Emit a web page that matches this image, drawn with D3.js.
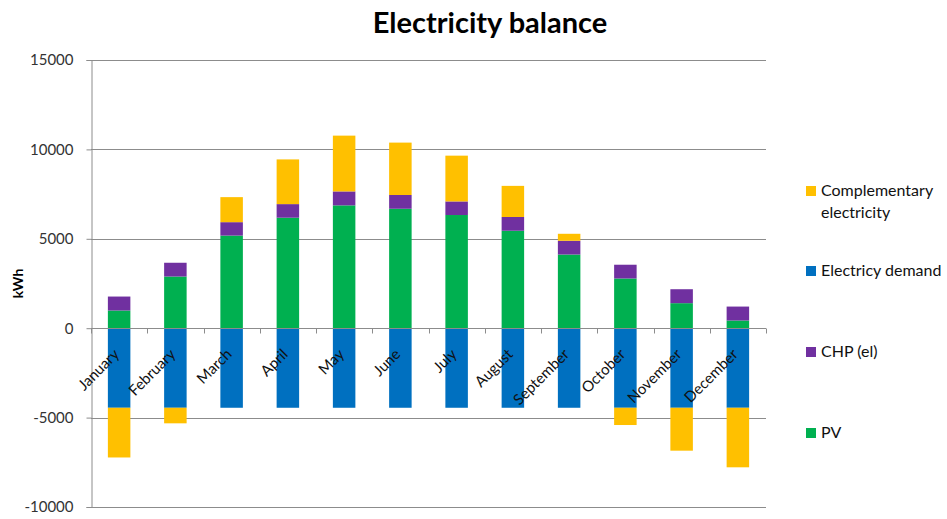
<!DOCTYPE html>
<html>
<head>
<meta charset="utf-8">
<script src="https://cdn.jsdelivr.net/npm/d3@7"></script>
<style>
  html, body { margin: 0; padding: 0; background: #fff; }
  svg text { font-family: Lato, "Open Sans", sans-serif; fill: #222; }
</style>
</head>
<body>
<div id="chart"></div>
<script>
/* Electricity balance — monthly stacked bars (kWh), positive: PV / CHP / surplus, negative: demand / import */
const months = ["January", "February", "March", "April", "May", "June",
  "July", "August", "September", "October", "November", "December"];
const pv = [990, 2890, 5180, 6180, 6870, 6680, 6330, 5450, 4120, 2780, 1400, 430];
const chp = [780, 770, 750, 760, 780, 770, 760, 770, 770, 770, 780, 780];
const demand = [-4450, -4450, -4450, -4450, -4450, -4450, -4450, -4450, -4450, -4450, -4450, -4450];
const complementary = [-2780, -870, 1400, 2500, 3120, 2930, 2560, 1740, 390, -965, -2400, -3330];
const yTicks = [-10000, -5000, 0, 5000, 10000, 15000];

const keys = ["pv", "chp", "demand", "comp"];
const COLORS = { pv: "#00B050", chp: "#7030A0", demand: "#0070C0", comp: "#FFC000" };
const legendItems = [
  { key: "comp", lines: ["Complementary", "electricity"], y: 190 },
  { key: "demand", lines: ["Electricy demand"], y: 270 },
  { key: "chp", lines: ["CHP (el)"], y: 351 },
  { key: "pv", lines: ["PV"], y: 432 }
];

const W = 947, H = 519;
const m = { left: 91, right: 181, top: 60, bottom: 12 };

const rows = months.map((mo, i) => ({
  month: mo, pv: pv[i], chp: chp[i], demand: demand[i], comp: complementary[i]
}));
const series = d3.stack().keys(keys).offset(d3.stackOffsetDiverging)(rows);

const svg = d3.select("#chart").append("svg")
  .attr("width", W).attr("height", H);

const x = d3.scaleBand().domain(months)
  .range([m.left, W - m.right]).paddingInner(0.6).paddingOuter(0.3);
const y = d3.scaleLinear().domain([-10000, 15000]).range([H - m.bottom, m.top]);

// title
svg.append("text")
  .attr("x", 490).attr("y", 33)
  .attr("text-anchor", "middle")
  .attr("font-size", 29).attr("font-weight", "bold")
  .style("fill", "#000")
  .text("Electricity balance");

// grid lines
svg.append("g").selectAll("line")
  .data(yTicks.filter(t => t !== 0)).join("line")
  .attr("x1", m.left).attr("x2", W - m.right)
  .attr("y1", d => Math.round(y(d)) + 0.5).attr("y2", d => Math.round(y(d)) + 0.5)
  .attr("stroke", "#8c8c8c").attr("stroke-width", 1);

// y axis
const yAxis = svg.append("g")
  .attr("transform", `translate(${m.left + 0.5},0)`)
  .call(d3.axisLeft(y).tickValues(yTicks).tickSize(5).tickPadding(13).tickFormat(d => String(d)));
yAxis.select(".domain").attr("stroke", "#8c8c8c");
yAxis.selectAll(".tick line").attr("stroke", "#8c8c8c");
yAxis.selectAll(".tick text").attr("font-size", 15).style("fill", "#333")
  .style("font-family", "Lato, sans-serif");

// y label
svg.append("text")
  .attr("transform", `translate(23,${(m.top + H - m.bottom) / 2}) rotate(-90)`)
  .attr("text-anchor", "middle")
  .attr("font-size", 14).attr("font-weight", "bold")
  .style("fill", "#000")
  .text("kWh");

// bars
svg.append("g").selectAll("g")
  .data(series).join("g")
  .attr("fill", d => COLORS[d.key])
  .selectAll("rect")
  .data(d => d).join("rect")
  .attr("x", d => x(d.data.month))
  .attr("width", x.bandwidth())
  .attr("y", d => y(Math.max(d[0], d[1])))
  .attr("height", d => Math.abs(y(d[0]) - y(d[1])));

// zero axis with band ticks
const y0 = Math.round(y(0)) + 0.5;
svg.append("line")
  .attr("x1", m.left).attr("x2", W - m.right)
  .attr("y1", y0).attr("y2", y0)
  .attr("stroke", "#8c8c8c");
svg.append("g").selectAll("line")
  .data(d3.range(months.length + 1)).join("line")
  .attr("x1", i => Math.round(m.left + i * x.step()) + 0.5)
  .attr("x2", i => Math.round(m.left + i * x.step()) + 0.5)
  .attr("y1", y0).attr("y2", y0 + 5)
  .attr("stroke", "#8c8c8c");

// month labels
svg.append("g").selectAll("text")
  .data(months).join("text")
  .attr("transform", d => `translate(${x(d) + x.bandwidth() / 2 + 1},${y(0) + 27}) rotate(-45)`)
  .attr("text-anchor", "end")
  .attr("font-size", 15)
  .style("fill", "#111")
  .text(d => d);

// legend
const lg = svg.append("g").selectAll("g")
  .data(legendItems).join("g")
  .attr("transform", d => `translate(806,${d.y})`);
lg.append("rect")
  .attr("x", 0).attr("y", -4).attr("width", 10).attr("height", 10)
  .attr("fill", d => COLORS[d.key]);
lg.append("text")
  .attr("x", 15).attr("y", 6)
  .attr("font-size", 16)
  .style("fill", "#111")
  .selectAll("tspan")
  .data(d => d.lines).join("tspan")
  .attr("x", 15).attr("dy", (d, i) => i ? 22 : 0)
  .text(d => d);
</script>
</body>
</html>
